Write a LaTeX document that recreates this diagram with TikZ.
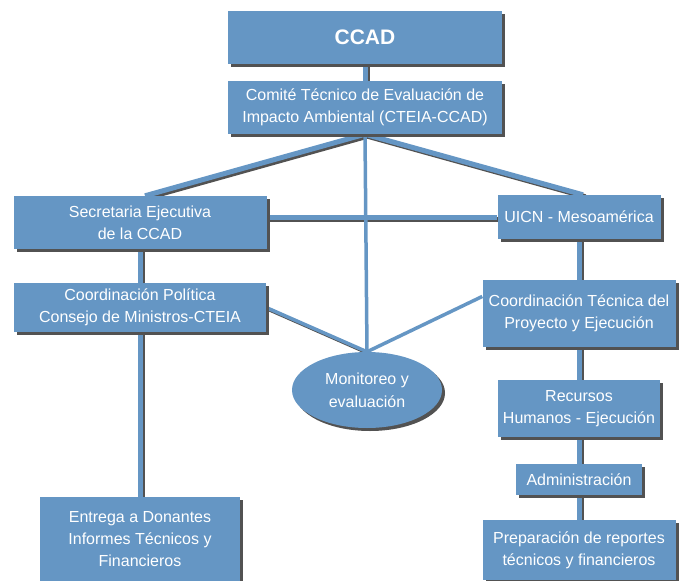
\documentclass[tikz,border=0pt]{standalone}
\usepackage{fontspec}
\setmainfont{Liberation Sans}
\usetikzlibrary{shapes.geometric,shadows,backgrounds,calc}
\definecolor{boxblue}{RGB}{101,150,196}
\definecolor{shadowgray}{RGB}{82,82,82}
\tikzset{
  box/.style={rectangle, fill=boxblue, text=white, align=center, inner sep=0pt,
    font=\fontsize{16}{22}\selectfont,
    drop shadow={shadow xshift=3pt, shadow yshift=-3pt, fill=shadowgray, opacity=1}},
  oval/.style={box, ellipse, font=\fontsize{16}{23}\selectfont},
  link/.style={draw=boxblue, line width=5pt},
  linkshade/.style={draw=shadowgray, line width=5pt},
  thinlink/.style={draw=boxblue, line width=3.5pt},
}
\begin{document}
\begin{tikzpicture}[x=1pt,y=-1pt]
\useasboundingbox (0,0) rectangle (681,581);
%%%% columns
\pgfmathsetmacro{\lx}{140}
\pgfmathsetmacro{\mx}{365}
\pgfmathsetmacro{\rx}{579}
%%%%%% top boxes
\node[box, minimum width=274pt, minimum height=53pt, font=\fontsize{21}{24}\selectfont\bfseries] (ccad) at (\mx,37.5) {CCAD};
\node[box, minimum width=274pt, minimum height=53pt] (cteia) at (\mx,107.5) {Comité Técnico de Evaluación de\\Impacto Ambiental (CTEIA-CCAD)};
%%%%%% left column
\node[box, minimum width=253pt, minimum height=53pt] (secre) at (\lx,222.5) {Secretaria Ejecutiva\\de la CCAD};
\node[box, minimum width=252pt, minimum height=49pt] (cpol) at (\lx,307.5) {Coordinación Política\\Consejo de Ministros-CTEIA};
\node[box, minimum width=200pt, minimum height=84pt] (entre) at (\lx,539) {Entrega a Donantes\\Informes Técnicos y\\Financieros};
%%%%%% right column
\node[box, minimum width=163pt, minimum height=44pt] (uicn) at (\rx,217) {UICN - Mesoamérica};
\node[box, minimum width=193pt, minimum height=67pt] (ctec) at (\rx,313.5) {Coordinación Técnica del\\Proyecto y Ejecución};
\node[box, minimum width=162pt, minimum height=57pt] (recur) at (\rx,408.5) {Recursos\\Humanos - Ejecución};
\node[box, minimum width=126pt, minimum height=31pt] (admin) at (\rx,479.5) {Administración};
\node[box, minimum width=193pt, minimum height=60pt] (prep) at (\rx,550) {Preparación de reportes\\técnicos y financieros};
%%%%%% monitoring
\node[oval, minimum width=150pt, minimum height=76pt] (monit) at (367,390) {Monitoreo y\\evaluación};
%%%% top ends of the two diagonals
\coordinate (secretop) at ($(secre.north)+(5,0)$);
\coordinate (uicntop) at ($(uicn.north)+(4,0)$);
%%%% connectors
\begin{scope}[on background layer]
\def\links{ccad.south/cteia.north, cteia.south/secretop, cteia.south/uicntop,
  secre.south/cpol.north, cpol.south/entre.north, uicn.south/ctec.north,
  ctec.south/recur.north, recur.south/admin.north, admin.south/prep.north}
\begin{scope}[transform canvas={shift={(2.5pt,-2pt)}}]
\foreach \p/\q in \links {
  \draw[linkshade] (\p) -- (\q);
}
\draw[linkshade] (uicn.west -| secre.east) -- (uicn.west);
\draw[linkshade, line width=3.5pt] (cpol.east) -- (monit.north);
\end{scope}
\foreach \p/\q in \links {
  \draw[link] (\p) -- (\q);
}
\draw[link] (uicn.west -| secre.east) -- (uicn.west);
%%%% thin lines to monitoring
\draw[thinlink] (cteia.south) -- (monit.north);
\draw[thinlink] (cpol.east) -- (monit.north);
\draw[thinlink] (ctec.170) -- (monit.north);
\end{scope}
\end{tikzpicture}
\end{document}
